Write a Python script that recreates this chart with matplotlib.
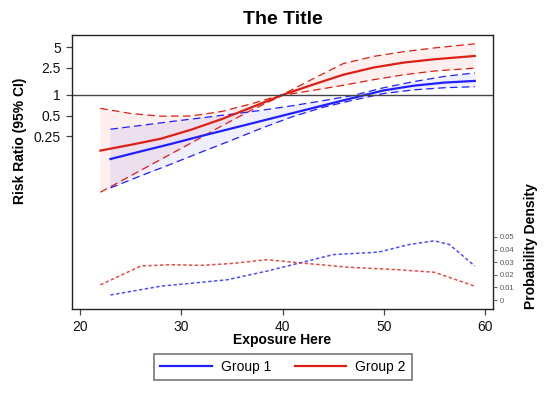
import matplotlib
matplotlib.use("Agg")
import matplotlib.pyplot as plt
from matplotlib.lines import Line2D
import numpy as np

plt.rcParams['font.family'] = ['Liberation Sans', 'DejaVu Sans']

# ---- data ----
exp_g1 = [23, 26, 29, 32, 35, 38, 41, 44, 47, 50, 53, 56, 59]
rr_g1 = [0.116, 0.150, 0.193, 0.252, 0.325, 0.420, 0.543, 0.702, 0.908, 1.165, 1.366, 1.516, 1.602]
hi_g1 = [0.316, 0.359, 0.409, 0.463, 0.525, 0.599, 0.697, 0.824, 0.986, 1.275, 1.569, 1.866, 2.099]
lo_g1 = [0.044, 0.066, 0.098, 0.147, 0.219, 0.330, 0.483, 0.660, 0.841, 1.050, 1.189, 1.275, 1.320]

exp_g2 = [22, 25, 28, 31, 34, 37, 40, 43, 46, 49, 52, 55, 59]
rr_g2 = [0.154, 0.187, 0.230, 0.312, 0.444, 0.664, 1.0, 1.414, 1.972, 2.514, 2.969, 3.317, 3.706]
hi_g2 = [0.637, 0.536, 0.490, 0.493, 0.574, 0.747, 1.014, 1.717, 2.868, 3.655, 4.287, 4.857, 5.579]
lo_g2 = [0.038, 0.066, 0.115, 0.200, 0.354, 0.607, 0.986, 1.165, 1.385, 1.670, 1.972, 2.235, 2.462]

dens_x_g1 = [23, 28, 34.5, 38.5, 42.5, 45, 49.5, 52.5, 55, 56.5, 59]
dens_y_g1 = [0.004, 0.011, 0.016, 0.023, 0.031, 0.036, 0.038, 0.044, 0.047, 0.044, 0.027]
dens_x_g2 = [22, 26, 29, 32, 35, 38.5, 41, 46.5, 51.5, 55, 59]
dens_y_g2 = [0.012, 0.027, 0.028, 0.0275, 0.029, 0.032, 0.030, 0.026, 0.024, 0.022, 0.011]

y_ticks = [0.25, 0.5, 1, 2.5, 5]
y_ticklabels = ['0.25', '0.5', '1', '2.5', '5']
x_ticks = [20, 30, 40, 50, 60]
d_ticks = [0, 0.01, 0.02, 0.03, 0.04, 0.05]
d_ticklabels = ['0', '0.01', '0.02', '0.03', '0.04', '0.05']
groups = ['Group 1', 'Group 2']

BLUE = '#2020ff'
RED = '#dd2015'

W, H = 551, 397
fig = plt.figure(figsize=(W / 100, H / 100), dpi=100)
ax = fig.add_axes([72 / W, 1 - 309 / H, (493 - 72) / W, (309 - 35) / H])

ax.set_yscale('log')
ax.set_xlim(19.2, 60.8)
ax.set_ylim(0.00075, 7.5)

# CI bands
ax.fill_between(exp_g2, lo_g2, hi_g2, facecolor=RED, alpha=0.07, edgecolor=RED, linewidth=0.3)
ax.fill_between(exp_g1, lo_g1, hi_g1, facecolor=BLUE, alpha=0.07, edgecolor=BLUE, linewidth=0.3)

dash = (0, (6, 3.5))
ax.plot(exp_g2, hi_g2, color=RED, lw=0.9, ls=dash)
ax.plot(exp_g2, lo_g2, color=RED, lw=0.9, ls=dash)
ax.plot(exp_g1, hi_g1, color=BLUE, lw=0.9, ls=dash)
ax.plot(exp_g1, lo_g1, color=BLUE, lw=0.9, ls=dash)
ax.plot(exp_g2, rr_g2, color=RED, lw=1.6)
ax.plot(exp_g1, rr_g1, color=BLUE, lw=1.6)

ax.axhline(1, color='#444444', lw=1.0)

ax.set_yticks(y_ticks)
ax.set_yticklabels(y_ticklabels)
ax.yaxis.set_minor_locator(matplotlib.ticker.NullLocator())
ax.set_xticks(x_ticks)
ax.tick_params(axis='both', labelsize=10, color='#444444', length=4.5, width=0.9, labelcolor='#111111')
for s in ax.spines.values():
    s.set_color('#222222')
    s.set_linewidth(1.0)

# density twin axis
ax2 = ax.twinx()
ax2.set_ylim(-0.00714, 0.2103)
ax2.plot(dens_x_g1, dens_y_g1, color=BLUE, lw=1.1, ls=(0, (2.2, 1.6)), alpha=0.8)
ax2.plot(dens_x_g2, dens_y_g2, color=RED, lw=1.1, ls=(0, (2.2, 1.6)), alpha=0.8)
ax2.set_yticks(d_ticks)
ax2.set_yticklabels(d_ticklabels)
ax2.tick_params(axis='y', labelsize=5.5, color='#666666', labelcolor='#555566', length=3, width=0.8, pad=1.5)
for s in ax2.spines.values():
    s.set_visible(False)

# texts
fig.text(283 / W, 1 - 20 / H, 'The Title', ha='center', va='center', fontsize=14, fontweight='bold')
fig.text(282 / W, 1 - 340 / H, 'Exposure Here', ha='center', va='center', fontsize=10, fontweight='bold')
fig.text(20 / W, 1 - 141 / H, 'Risk Ratio (95% CI)', ha='center', va='center', rotation=90,
         fontsize=10, fontweight='bold')
fig.text(531 / W, 1 - 246 / H, 'Probability Density', ha='center', va='center', rotation=90,
         fontsize=10, fontweight='bold')

handles = [Line2D([], [], color=BLUE, lw=1.6), Line2D([], [], color=RED, lw=1.6)]
leg = fig.legend(handles, groups, loc='center', bbox_to_anchor=(283 / W, 1 - 367 / H), ncol=2,
                 fontsize=10, handlelength=3.7, handletextpad=0.65, columnspacing=1.7,
                 fancybox=False, edgecolor='#777777', framealpha=1, borderpad=0.45)
leg.get_frame().set_linewidth(1.2)

fig.savefig('out.png', dpi=100)
